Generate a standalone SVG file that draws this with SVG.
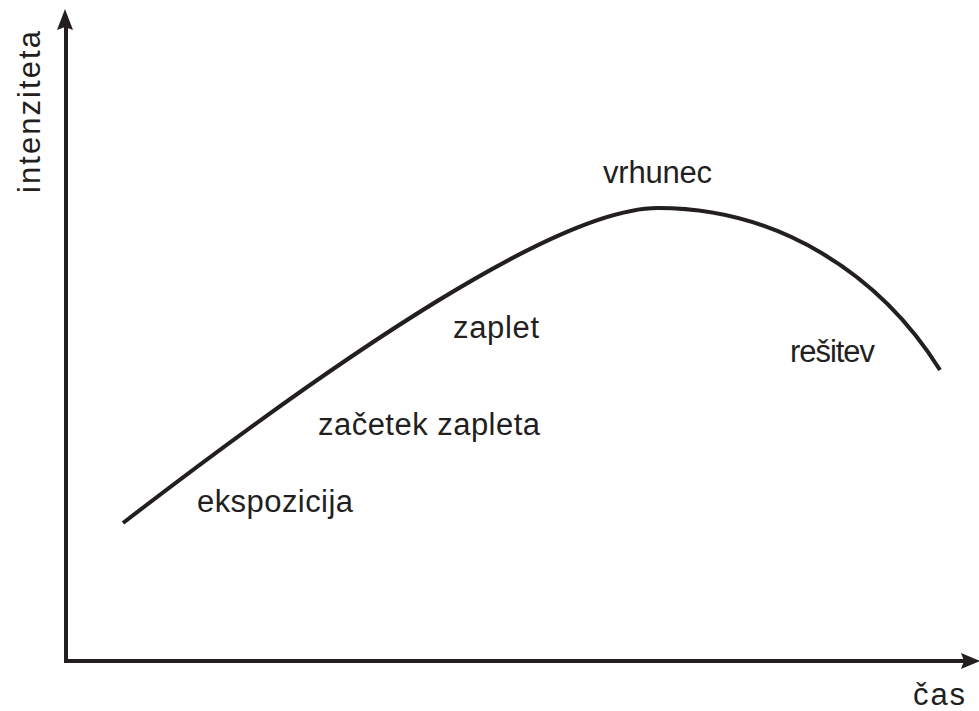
<svg xmlns="http://www.w3.org/2000/svg" width="979" height="711" viewBox="0 0 979 711">
<defs>
<style>
.lbl{font-family:"Liberation Sans",Arial,sans-serif;font-size:31px;fill:#231f20}
.ax{stroke:#231f20;stroke-width:4;fill:none}
.cv{stroke:#231f20;stroke-width:4;fill:none;stroke-linecap:butt}
.ah{fill:#231f20}
</style>
</defs>
<rect width="979" height="711" fill="#ffffff"/>
<g id="connectors">
<path class="ax" d="M66,661 L66,24"/>
<path class="ax" d="M64,661 L968,661"/>
<polygon class="ah" points="65,9 73,30 65,27 57,30"/>
<polygon class="ah" points="980,661 961,653 964,661 961,669"/>
<path id="curve" class="cv" d="M123,523 C343,353.6 558,208 658,208 C778,208 880,274 940,370"/>
</g>
<g id="axis-y-label"><text class="lbl" transform="translate(40,193) rotate(-90)" textLength="162" lengthAdjust="spacing">intenziteta</text></g>
<g id="axis-x-label"><text class="lbl" x="913" y="705" textLength="52" lengthAdjust="spacing">čas</text></g>
<g id="vrhunec"><text class="lbl" x="603" y="183" textLength="109" lengthAdjust="spacing">vrhunec</text></g>
<g id="zaplet"><text class="lbl" x="453" y="338" textLength="86" lengthAdjust="spacing">zaplet</text></g>
<g id="resitev"><text class="lbl" x="790" y="362" textLength="85" lengthAdjust="spacing">rešitev</text></g>
<g id="zacetek"><text class="lbl" x="318" y="435" textLength="222" lengthAdjust="spacing">začetek zapleta</text></g>
<g id="ekspozicija"><text class="lbl" x="197" y="512" textLength="156" lengthAdjust="spacing">ekspozicija</text></g>
</svg>
